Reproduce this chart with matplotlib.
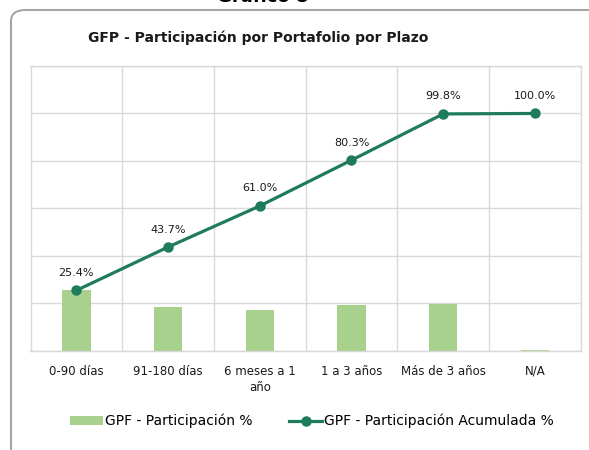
import matplotlib
matplotlib.use("Agg")
import matplotlib.pyplot as plt
from matplotlib.patches import FancyBboxPatch
import numpy as np

categories = ["0-90 días", "91-180 días", "6 meses a 1\naño", "1 a 3 años", "Más de 3 años", "N/A"]
participacion = [25.4, 18.3, 17.3, 19.3, 19.5, 0.2]
acumulada = [25.4, 43.7, 61.0, 80.3, 99.8, 100.0]
acum_labels = ["25.4%", "43.7%", "61.0%", "80.3%", "99.8%", "100.0%"]

BAR_COLOR = "#A9D18E"
LINE_COLOR = "#1E7B5B"
GRID_COLOR = "#D9D9D9"

plt.rcParams['font.family'] = ['DejaVu Sans']

W, H = 589, 450
fig = plt.figure(figsize=(W / 100, H / 100), dpi=100)

# outer rounded border
border = FancyBboxPatch((11 / W, -20 / H), (W + 20 - 11) / W, (H + 20 - 10) / H,
                        boxstyle="round,pad=0,rounding_size=0.025",
                        transform=fig.transFigure, facecolor="white",
                        edgecolor="#A6A6A6", linewidth=1.5, zorder=-5)
fig.patches.append(border)

fig.text(263 / W, 1 - 2 / H, "Gráfico 8", ha="center", va="baseline",
         fontsize=13, fontweight="bold", color="black")

fig.text(258 / W, 1 - 38 / H, "GFP - Participación por Portafolio por Plazo",
         ha="center", va="center", fontsize=10, fontweight="bold", color="#1a1a1a")

ax = fig.add_axes([30.5 / W, 1 - 350.7 / H, (580.7 - 30.5) / W, (350.7 - 66) / H])
ax.set_zorder(2)
ax.set_facecolor("none")
x = np.arange(len(categories))
bars = ax.bar(x, participacion, width=0.31, color=BAR_COLOR, zorder=2, label="GPF - Participación %")
line, = ax.plot(x, acumulada, color=LINE_COLOR, linewidth=2.3, marker="o", markersize=6.5,
                zorder=3, label="GPF - Participación Acumulada %")
for xi, yi, lab in zip(x, acumulada, acum_labels):
    ax.annotate(lab, (xi, yi), xytext=(0, 9), textcoords="offset points",
                ha="center", va="bottom", fontsize=8, color="#1a1a1a")

ax.set_xlim(-0.5, len(categories) - 0.5)
ax.set_ylim(0, 120)
ax.set_yticks(np.arange(0, 121, 20))
ax.set_yticklabels([])
ax.tick_params(axis="y", length=0)
ax.set_xticks(np.arange(-0.5, len(categories), 1), minor=True)
ax.set_xticks(x)
ax.set_xticklabels(categories, fontsize=8.5, color="#1a1a1a", linespacing=1.35)
ax.tick_params(axis="x", which="both", length=0, pad=10)
ax.grid(True, axis="y", color=GRID_COLOR, linewidth=1, zorder=0)
ax.grid(True, axis="x", which="minor", color=GRID_COLOR, linewidth=1, zorder=0)
ax.grid(False, axis="x", which="major")
ax.set_axisbelow(True)
for s in ax.spines.values():
    s.set_color(GRID_COLOR)
    s.set_linewidth(1)

fig.legend([bars, line], ["GPF - Participación %", "GPF - Participación Acumulada %"],
           loc="center", bbox_to_anchor=(312 / W, 1 - 421 / H), ncol=2,
           frameon=False, fontsize=10, handlelength=2.4, handletextpad=0.15,
           columnspacing=2.6, handleheight=0.6)

fig.savefig("out.png", dpi=100)
